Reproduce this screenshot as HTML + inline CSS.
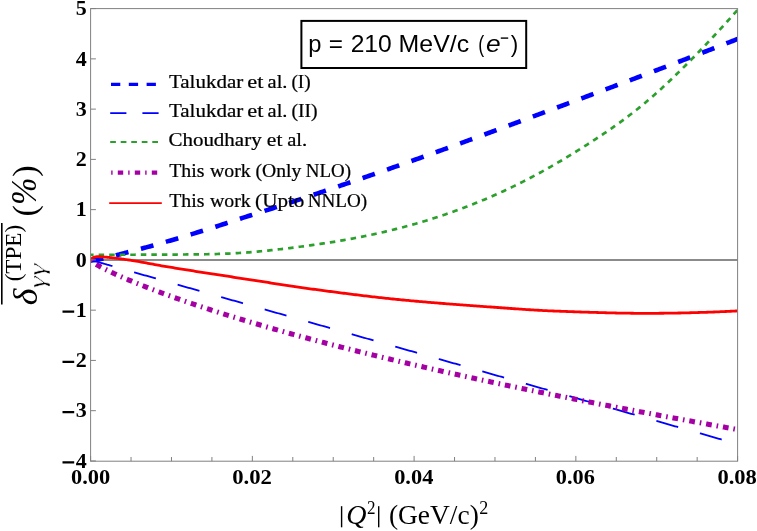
<!DOCTYPE html>
<html><head><meta charset="utf-8"><title>plot</title>
<style>
html,body{margin:0;padding:0;background:#fff;}
body{width:757px;height:531px;overflow:hidden;font-family:"Liberation Serif",serif;}
svg{display:block;will-change:transform;}
</style></head><body>
<svg width="757" height="531" viewBox="0 0 757 531">
<rect width="757" height="531" fill="#fff"/>
<defs><clipPath id="c"><rect x="90.60" y="8.60" width="647.00" height="452.60"/></clipPath></defs>
<line x1="90.60" y1="260.02" x2="737.60" y2="260.02" stroke="#646464" stroke-width="1.35"/>
<g clip-path="url(#c)" fill="none">
<path d="M90.60,260.50 L91.29,260.45 L91.97,260.39 L92.66,260.32 L93.34,260.24 L94.03,260.16 L94.71,260.07 L95.40,259.97 L96.08,259.86 L96.77,259.75 L97.45,259.63 L98.14,259.51 L98.82,259.38 L99.51,259.25 L100.20,259.11 L100.88,258.97 L101.57,258.83 L102.25,258.68 L102.94,258.53 L103.62,258.37 L104.31,258.22 L104.99,258.06 L105.68,257.90 L106.36,257.74 L107.05,257.58 L107.73,257.41 L108.42,257.25 L109.11,257.08 L109.79,256.91 L110.48,256.74 L111.16,256.57 L111.85,256.40 L112.53,256.22 L113.22,256.05 L113.90,255.87 L114.59,255.70 L115.27,255.52 L115.96,255.34 L116.64,255.16 L117.33,254.98 L118.02,254.80 L118.70,254.62 L119.39,254.44 L120.07,254.26 L120.76,254.08 L121.44,253.90 L122.13,253.72 L122.81,253.54 L123.50,253.36 L124.18,253.18 L124.87,253.00 L125.55,252.82 L126.24,252.64 L126.93,252.46 L127.61,252.28 L128.30,252.10 L128.98,251.92 L129.67,251.74 L130.35,251.56 L131.04,251.39 L132.73,250.94 L134.42,250.50 L136.11,250.05 L137.80,249.61 L139.49,249.16 L141.18,248.71 L142.86,248.26 L144.55,247.80 L146.24,247.35 L147.93,246.89 L149.62,246.42 L151.31,245.96 L153.00,245.49 L154.69,245.02 L156.38,244.55 L158.07,244.07 L159.76,243.59 L161.45,243.11 L163.14,242.62 L164.83,242.14 L166.52,241.65 L168.21,241.16 L169.90,240.67 L171.59,240.17 L173.28,239.68 L174.97,239.18 L176.66,238.68 L178.35,238.18 L180.04,237.68 L181.73,237.18 L183.41,236.67 L185.10,236.16 L186.79,235.65 L188.48,235.14 L190.17,234.63 L191.86,234.12 L193.55,233.60 L195.24,233.08 L196.93,232.56 L198.62,232.04 L200.31,231.52 L202.00,231.00 L203.69,230.47 L205.38,229.94 L207.07,229.41 L208.76,228.88 L210.45,228.35 L212.14,227.81 L213.83,227.27 L215.52,226.74 L217.21,226.19 L218.90,225.65 L220.59,225.10 L222.28,224.56 L223.96,224.01 L225.65,223.46 L227.34,222.90 L229.03,222.35 L230.72,221.79 L232.41,221.24 L234.10,220.69 L235.79,220.13 L237.48,219.58 L239.17,219.03 L240.86,218.48 L242.55,217.93 L244.24,217.38 L245.93,216.84 L247.62,216.30 L249.31,215.76 L251.00,215.21 L252.69,214.67 L254.38,214.14 L256.07,213.60 L257.76,213.06 L259.45,212.52 L261.14,211.98 L262.83,211.44 L264.52,210.90 L266.20,210.36 L267.89,209.82 L269.58,209.28 L271.27,208.73 L272.96,208.19 L274.65,207.64 L276.34,207.10 L278.03,206.55 L279.72,206.00 L281.41,205.44 L283.10,204.89 L284.79,204.34 L286.48,203.78 L288.17,203.23 L289.86,202.67 L291.55,202.11 L293.24,201.55 L294.93,200.99 L296.62,200.43 L298.31,199.87 L300.00,199.31 L301.69,198.74 L303.38,198.18 L305.07,197.61 L306.75,197.05 L308.44,196.48 L310.13,195.91 L311.82,195.35 L313.51,194.78 L315.20,194.21 L316.89,193.64 L318.58,193.07 L320.27,192.50 L321.96,191.93 L323.65,191.36 L325.34,190.79 L327.03,190.22 L328.72,189.65 L330.41,189.07 L332.10,188.50 L333.79,187.93 L335.48,187.35 L337.17,186.78 L338.86,186.20 L340.55,185.63 L342.24,185.05 L343.93,184.48 L345.62,183.90 L347.30,183.33 L348.99,182.75 L350.68,182.17 L352.37,181.59 L354.06,181.01 L355.75,180.43 L357.44,179.85 L359.13,179.27 L360.82,178.69 L362.51,178.11 L364.20,177.53 L365.89,176.94 L367.58,176.36 L369.27,175.78 L370.96,175.19 L372.65,174.61 L374.34,174.02 L376.03,173.44 L377.72,172.85 L379.41,172.26 L381.10,171.67 L382.79,171.08 L384.48,170.50 L386.17,169.90 L387.86,169.31 L389.54,168.72 L391.23,168.13 L392.92,167.54 L394.61,166.94 L396.30,166.35 L397.99,165.76 L399.68,165.16 L401.37,164.56 L403.06,163.97 L404.75,163.37 L406.44,162.77 L408.13,162.17 L409.82,161.57 L411.51,160.97 L413.20,160.37 L414.89,159.77 L416.58,159.16 L418.27,158.56 L419.96,157.96 L421.65,157.35 L423.34,156.75 L425.03,156.14 L426.72,155.54 L428.41,154.93 L430.09,154.32 L431.78,153.71 L433.47,153.11 L435.16,152.50 L436.85,151.89 L438.54,151.28 L440.23,150.67 L441.92,150.05 L443.61,149.44 L445.30,148.83 L446.99,148.22 L448.68,147.60 L450.37,146.99 L452.06,146.37 L453.75,145.76 L455.44,145.14 L457.13,144.53 L458.82,143.91 L460.51,143.29 L462.20,142.68 L463.89,142.06 L465.58,141.44 L467.27,140.82 L468.96,140.20 L470.64,139.58 L472.33,138.96 L474.02,138.34 L475.71,137.72 L477.40,137.10 L479.09,136.48 L480.78,135.86 L482.47,135.24 L484.16,134.61 L485.85,133.99 L487.54,133.37 L489.23,132.75 L490.92,132.12 L492.61,131.50 L494.30,130.87 L495.99,130.25 L497.68,129.62 L499.37,129.00 L501.06,128.37 L502.75,127.75 L504.44,127.12 L506.13,126.49 L507.82,125.87 L509.51,125.24 L511.20,124.61 L512.88,123.99 L514.57,123.36 L516.26,122.73 L517.95,122.10 L519.64,121.48 L521.33,120.85 L523.02,120.22 L524.71,119.59 L526.40,118.96 L528.09,118.33 L529.78,117.70 L531.47,117.07 L533.16,116.44 L534.85,115.82 L536.54,115.19 L538.23,114.56 L539.92,113.93 L541.61,113.30 L543.30,112.67 L544.99,112.04 L546.68,111.41 L548.37,110.78 L550.06,110.15 L551.75,109.52 L553.43,108.89 L555.12,108.25 L556.81,107.62 L558.50,106.99 L560.19,106.36 L561.88,105.73 L563.57,105.10 L565.26,104.47 L566.95,103.84 L568.64,103.21 L570.33,102.58 L572.02,101.95 L573.71,101.32 L575.40,100.69 L577.09,100.06 L578.78,99.43 L580.47,98.80 L582.16,98.17 L583.85,97.53 L585.54,96.90 L587.23,96.27 L588.92,95.64 L590.61,95.01 L592.30,94.38 L593.98,93.75 L595.67,93.12 L597.36,92.48 L599.05,91.85 L600.74,91.22 L602.43,90.59 L604.12,89.95 L605.81,89.32 L607.50,88.69 L609.19,88.06 L610.88,87.42 L612.57,86.79 L614.26,86.16 L615.95,85.52 L617.64,84.89 L619.33,84.26 L621.02,83.62 L622.71,82.99 L624.40,82.35 L626.09,81.72 L627.78,81.08 L629.47,80.45 L631.16,79.81 L632.85,79.18 L634.54,78.54 L636.22,77.90 L637.91,77.27 L639.60,76.63 L641.29,75.99 L642.98,75.35 L644.67,74.72 L646.36,74.08 L648.05,73.44 L649.74,72.80 L651.43,72.16 L653.12,71.52 L654.81,70.88 L656.50,70.24 L658.19,69.60 L659.88,68.96 L661.57,68.32 L663.26,67.68 L664.95,67.04 L666.64,66.39 L668.33,65.75 L670.02,65.11 L671.71,64.47 L673.40,63.82 L675.09,63.18 L676.77,62.53 L678.46,61.89 L680.15,61.24 L681.84,60.60 L683.53,59.95 L685.22,59.30 L686.91,58.66 L688.60,58.01 L690.29,57.36 L691.98,56.71 L693.67,56.06 L695.36,55.41 L697.05,54.76 L698.74,54.11 L700.43,53.46 L702.12,52.81 L703.81,52.16 L705.50,51.51 L707.19,50.85 L708.88,50.20 L710.57,49.55 L712.26,48.89 L713.95,48.24 L715.64,47.58 L717.32,46.93 L719.01,46.27 L720.70,45.61 L722.39,44.95 L724.08,44.30 L725.77,43.64 L727.46,42.98 L729.15,42.32 L730.84,41.66 L732.53,41.00 L734.22,40.33 L735.91,39.67 L737.60,39.01" stroke="#0000ff" stroke-width="4.60" stroke-dasharray="12.93 12.93"/>
<path d="M90.60,259.90 L91.29,260.10 L91.97,260.29 L92.66,260.49 L93.34,260.68 L94.03,260.88 L94.71,261.07 L95.40,261.27 L96.08,261.46 L96.77,261.66 L97.45,261.85 L98.14,262.05 L98.82,262.24 L99.51,262.44 L100.20,262.63 L100.88,262.83 L101.57,263.02 L102.25,263.22 L102.94,263.41 L103.62,263.61 L104.31,263.80 L104.99,264.00 L105.68,264.19 L106.36,264.39 L107.05,264.58 L107.73,264.78 L108.42,264.97 L109.11,265.17 L109.79,265.36 L110.48,265.56 L111.16,265.75 L111.85,265.95 L112.53,266.14 L113.22,266.34 L113.90,266.53 L114.59,266.73 L115.27,266.92 L115.96,267.12 L116.64,267.31 L117.33,267.51 L118.02,267.70 L118.70,267.90 L119.39,268.09 L120.07,268.29 L120.76,268.48 L121.44,268.68 L122.13,268.87 L122.81,269.07 L123.50,269.26 L124.18,269.46 L124.87,269.65 L125.55,269.85 L126.24,270.04 L126.93,270.24 L127.61,270.43 L128.30,270.63 L128.98,270.82 L129.67,271.02 L130.35,271.21 L131.04,271.41 L132.73,271.89 L134.42,272.37 L136.11,272.85 L137.80,273.33 L139.49,273.81 L141.18,274.29 L142.86,274.78 L144.55,275.26 L146.24,275.74 L147.93,276.22 L149.62,276.70 L151.31,277.18 L153.00,277.66 L154.69,278.14 L156.38,278.62 L158.07,279.10 L159.76,279.58 L161.45,280.07 L163.14,280.55 L164.83,281.03 L166.52,281.51 L168.21,281.99 L169.90,282.47 L171.59,282.95 L173.28,283.43 L174.97,283.91 L176.66,284.39 L178.35,284.87 L180.04,285.36 L181.73,285.84 L183.41,286.32 L185.10,286.80 L186.79,287.28 L188.48,287.76 L190.17,288.24 L191.86,288.72 L193.55,289.20 L195.24,289.68 L196.93,290.16 L198.62,290.65 L200.31,291.13 L202.00,291.61 L203.69,292.09 L205.38,292.57 L207.07,293.05 L208.76,293.53 L210.45,294.01 L212.14,294.49 L213.83,294.97 L215.52,295.45 L217.21,295.94 L218.90,296.42 L220.59,296.90 L222.28,297.38 L223.96,297.86 L225.65,298.34 L227.34,298.82 L229.03,299.30 L230.72,299.78 L232.41,300.26 L234.10,300.74 L235.79,301.23 L237.48,301.71 L239.17,302.19 L240.86,302.67 L242.55,303.15 L244.24,303.63 L245.93,304.11 L247.62,304.59 L249.31,305.07 L251.00,305.55 L252.69,306.03 L254.38,306.52 L256.07,307.00 L257.76,307.48 L259.45,307.96 L261.14,308.44 L262.83,308.92 L264.52,309.40 L266.20,309.88 L267.89,310.36 L269.58,310.84 L271.27,311.32 L272.96,311.81 L274.65,312.29 L276.34,312.77 L278.03,313.25 L279.72,313.73 L281.41,314.21 L283.10,314.69 L284.79,315.17 L286.48,315.65 L288.17,316.13 L289.86,316.61 L291.55,317.10 L293.24,317.58 L294.93,318.06 L296.62,318.54 L298.31,319.02 L300.00,319.50 L301.69,319.98 L303.38,320.46 L305.07,320.94 L306.75,321.42 L308.44,321.90 L310.13,322.38 L311.82,322.87 L313.51,323.35 L315.20,323.83 L316.89,324.31 L318.58,324.79 L320.27,325.27 L321.96,325.75 L323.65,326.23 L325.34,326.71 L327.03,327.19 L328.72,327.67 L330.41,328.16 L332.10,328.64 L333.79,329.12 L335.48,329.60 L337.17,330.08 L338.86,330.56 L340.55,331.04 L342.24,331.52 L343.93,332.00 L345.62,332.48 L347.30,332.96 L348.99,333.45 L350.68,333.93 L352.37,334.41 L354.06,334.89 L355.75,335.37 L357.44,335.85 L359.13,336.33 L360.82,336.81 L362.51,337.29 L364.20,337.77 L365.89,338.25 L367.58,338.74 L369.27,339.22 L370.96,339.70 L372.65,340.18 L374.34,340.66 L376.03,341.14 L377.72,341.62 L379.41,342.10 L381.10,342.58 L382.79,343.06 L384.48,343.54 L386.17,344.03 L387.86,344.51 L389.54,344.99 L391.23,345.47 L392.92,345.95 L394.61,346.43 L396.30,346.91 L397.99,347.39 L399.68,347.87 L401.37,348.35 L403.06,348.83 L404.75,349.32 L406.44,349.80 L408.13,350.28 L409.82,350.76 L411.51,351.24 L413.20,351.72 L414.89,352.20 L416.58,352.68 L418.27,353.16 L419.96,353.64 L421.65,354.12 L423.34,354.61 L425.03,355.09 L426.72,355.57 L428.41,356.05 L430.09,356.53 L431.78,357.01 L433.47,357.49 L435.16,357.97 L436.85,358.45 L438.54,358.93 L440.23,359.41 L441.92,359.90 L443.61,360.38 L445.30,360.86 L446.99,361.34 L448.68,361.82 L450.37,362.30 L452.06,362.78 L453.75,363.26 L455.44,363.74 L457.13,364.22 L458.82,364.70 L460.51,365.19 L462.20,365.67 L463.89,366.15 L465.58,366.63 L467.27,367.11 L468.96,367.59 L470.64,368.07 L472.33,368.55 L474.02,369.03 L475.71,369.51 L477.40,369.99 L479.09,370.47 L480.78,370.96 L482.47,371.44 L484.16,371.92 L485.85,372.40 L487.54,372.88 L489.23,373.36 L490.92,373.84 L492.61,374.32 L494.30,374.80 L495.99,375.28 L497.68,375.76 L499.37,376.25 L501.06,376.73 L502.75,377.21 L504.44,377.69 L506.13,378.17 L507.82,378.65 L509.51,379.13 L511.20,379.61 L512.88,380.09 L514.57,380.57 L516.26,381.05 L517.95,381.54 L519.64,382.02 L521.33,382.50 L523.02,382.98 L524.71,383.46 L526.40,383.94 L528.09,384.42 L529.78,384.90 L531.47,385.38 L533.16,385.86 L534.85,386.34 L536.54,386.83 L538.23,387.31 L539.92,387.79 L541.61,388.27 L543.30,388.75 L544.99,389.23 L546.68,389.71 L548.37,390.19 L550.06,390.67 L551.75,391.15 L553.43,391.63 L555.12,392.12 L556.81,392.60 L558.50,393.08 L560.19,393.56 L561.88,394.04 L563.57,394.52 L565.26,395.00 L566.95,395.48 L568.64,395.96 L570.33,396.44 L572.02,396.92 L573.71,397.41 L575.40,397.89 L577.09,398.37 L578.78,398.85 L580.47,399.33 L582.16,399.81 L583.85,400.29 L585.54,400.77 L587.23,401.25 L588.92,401.73 L590.61,402.21 L592.30,402.70 L593.98,403.18 L595.67,403.66 L597.36,404.14 L599.05,404.62 L600.74,405.10 L602.43,405.58 L604.12,406.06 L605.81,406.54 L607.50,407.02 L609.19,407.50 L610.88,407.99 L612.57,408.47 L614.26,408.95 L615.95,409.43 L617.64,409.91 L619.33,410.39 L621.02,410.87 L622.71,411.35 L624.40,411.83 L626.09,412.31 L627.78,412.79 L629.47,413.28 L631.16,413.76 L632.85,414.24 L634.54,414.72 L636.22,415.20 L637.91,415.68 L639.60,416.16 L641.29,416.64 L642.98,417.12 L644.67,417.60 L646.36,418.08 L648.05,418.56 L649.74,419.05 L651.43,419.53 L653.12,420.01 L654.81,420.49 L656.50,420.97 L658.19,421.45 L659.88,421.93 L661.57,422.41 L663.26,422.89 L664.95,423.37 L666.64,423.85 L668.33,424.34 L670.02,424.82 L671.71,425.30 L673.40,425.78 L675.09,426.26 L676.77,426.74 L678.46,427.22 L680.15,427.70 L681.84,428.18 L683.53,428.66 L685.22,429.14 L686.91,429.63 L688.60,430.11 L690.29,430.59 L691.98,431.07 L693.67,431.55 L695.36,432.03 L697.05,432.51 L698.74,432.99 L700.43,433.47 L702.12,433.95 L703.81,434.43 L705.50,434.92 L707.19,435.40 L708.88,435.88 L710.57,436.36 L712.26,436.84 L713.95,437.32 L715.64,437.80 L717.32,438.28 L719.01,438.76 L720.70,439.24 L722.39,439.72 L724.08,440.21 L725.77,440.69 L727.46,441.17 L729.15,441.65 L730.84,442.13 L732.53,442.61 L734.22,443.09 L735.91,443.57 L737.60,444.05" stroke="#0000ff" stroke-width="1.80" stroke-dasharray="22.65 22.6"/>
<path d="M90.60,254.77 L91.29,254.77 L91.97,254.77 L92.66,254.77 L93.34,254.77 L94.03,254.77 L94.71,254.77 L95.40,254.77 L96.08,254.77 L96.77,254.77 L97.45,254.77 L98.14,254.77 L98.82,254.77 L99.51,254.77 L100.20,254.77 L100.88,254.77 L101.57,254.77 L102.25,254.77 L102.94,254.77 L103.62,254.77 L104.31,254.77 L104.99,254.77 L105.68,254.77 L106.36,254.77 L107.05,254.77 L107.73,254.77 L108.42,254.77 L109.11,254.77 L109.79,254.77 L110.48,254.77 L111.16,254.77 L111.85,254.77 L112.53,254.77 L113.22,254.77 L113.90,254.77 L114.59,254.77 L115.27,254.77 L115.96,254.77 L116.64,254.76 L117.33,254.76 L118.02,254.76 L118.70,254.76 L119.39,254.76 L120.07,254.76 L120.76,254.76 L121.44,254.76 L122.13,254.76 L122.81,254.75 L123.50,254.75 L124.18,254.75 L124.87,254.75 L125.55,254.75 L126.24,254.75 L126.93,254.75 L127.61,254.74 L128.30,254.74 L128.98,254.74 L129.67,254.74 L130.35,254.74 L131.04,254.74 L132.73,254.73 L134.42,254.73 L136.11,254.72 L137.80,254.71 L139.49,254.71 L141.18,254.70 L142.86,254.70 L144.55,254.69 L146.24,254.68 L147.93,254.68 L149.62,254.67 L151.31,254.66 L153.00,254.65 L154.69,254.64 L156.38,254.64 L158.07,254.63 L159.76,254.62 L161.45,254.61 L163.14,254.60 L164.83,254.59 L166.52,254.59 L168.21,254.58 L169.90,254.57 L171.59,254.56 L173.28,254.55 L174.97,254.54 L176.66,254.53 L178.35,254.52 L180.04,254.51 L181.73,254.50 L183.41,254.49 L185.10,254.48 L186.79,254.47 L188.48,254.45 L190.17,254.44 L191.86,254.43 L193.55,254.41 L195.24,254.39 L196.93,254.38 L198.62,254.36 L200.31,254.34 L202.00,254.31 L203.69,254.29 L205.38,254.26 L207.07,254.23 L208.76,254.20 L210.45,254.17 L212.14,254.13 L213.83,254.09 L215.52,254.04 L217.21,254.00 L218.90,253.95 L220.59,253.89 L222.28,253.83 L223.96,253.77 L225.65,253.70 L227.34,253.63 L229.03,253.56 L230.72,253.48 L232.41,253.39 L234.10,253.30 L235.79,253.21 L237.48,253.11 L239.17,253.01 L240.86,252.90 L242.55,252.79 L244.24,252.67 L245.93,252.55 L247.62,252.42 L249.31,252.29 L251.00,252.15 L252.69,252.01 L254.38,251.87 L256.07,251.72 L257.76,251.57 L259.45,251.41 L261.14,251.25 L262.83,251.09 L264.52,250.92 L266.20,250.75 L267.89,250.57 L269.58,250.39 L271.27,250.21 L272.96,250.03 L274.65,249.84 L276.34,249.65 L278.03,249.46 L279.72,249.26 L281.41,249.06 L283.10,248.86 L284.79,248.66 L286.48,248.46 L288.17,248.25 L289.86,248.04 L291.55,247.83 L293.24,247.62 L294.93,247.40 L296.62,247.19 L298.31,246.97 L300.00,246.75 L301.69,246.52 L303.38,246.30 L305.07,246.07 L306.75,245.84 L308.44,245.60 L310.13,245.37 L311.82,245.13 L313.51,244.89 L315.20,244.65 L316.89,244.41 L318.58,244.16 L320.27,243.91 L321.96,243.66 L323.65,243.40 L325.34,243.14 L327.03,242.88 L328.72,242.62 L330.41,242.35 L332.10,242.08 L333.79,241.80 L335.48,241.53 L337.17,241.24 L338.86,240.96 L340.55,240.67 L342.24,240.38 L343.93,240.09 L345.62,239.79 L347.30,239.49 L348.99,239.18 L350.68,238.87 L352.37,238.56 L354.06,238.24 L355.75,237.92 L357.44,237.59 L359.13,237.26 L360.82,236.93 L362.51,236.59 L364.20,236.25 L365.89,235.91 L367.58,235.56 L369.27,235.20 L370.96,234.84 L372.65,234.48 L374.34,234.11 L376.03,233.74 L377.72,233.37 L379.41,232.99 L381.10,232.60 L382.79,232.21 L384.48,231.82 L386.17,231.42 L387.86,231.02 L389.54,230.61 L391.23,230.20 L392.92,229.78 L394.61,229.36 L396.30,228.93 L397.99,228.50 L399.68,228.07 L401.37,227.63 L403.06,227.18 L404.75,226.73 L406.44,226.28 L408.13,225.82 L409.82,225.35 L411.51,224.88 L413.20,224.41 L414.89,223.93 L416.58,223.44 L418.27,222.95 L419.96,222.46 L421.65,221.96 L423.34,221.45 L425.03,220.94 L426.72,220.43 L428.41,219.91 L430.09,219.38 L431.78,218.85 L433.47,218.31 L435.16,217.77 L436.85,217.22 L438.54,216.67 L440.23,216.11 L441.92,215.55 L443.61,214.98 L445.30,214.41 L446.99,213.83 L448.68,213.24 L450.37,212.65 L452.06,212.06 L453.75,211.46 L455.44,210.85 L457.13,210.23 L458.82,209.62 L460.51,208.99 L462.20,208.36 L463.89,207.73 L465.58,207.08 L467.27,206.44 L468.96,205.78 L470.64,205.12 L472.33,204.46 L474.02,203.79 L475.71,203.11 L477.40,202.43 L479.09,201.74 L480.78,201.04 L482.47,200.34 L484.16,199.64 L485.85,198.92 L487.54,198.20 L489.23,197.48 L490.92,196.75 L492.61,196.01 L494.30,195.26 L495.99,194.51 L497.68,193.76 L499.37,192.99 L501.06,192.22 L502.75,191.45 L504.44,190.67 L506.13,189.88 L507.82,189.08 L509.51,188.28 L511.20,187.48 L512.88,186.66 L514.57,185.84 L516.26,185.01 L517.95,184.18 L519.64,183.34 L521.33,182.49 L523.02,181.64 L524.71,180.78 L526.40,179.91 L528.09,179.04 L529.78,178.16 L531.47,177.27 L533.16,176.38 L534.85,175.48 L536.54,174.58 L538.23,173.66 L539.92,172.75 L541.61,171.82 L543.30,170.89 L544.99,169.95 L546.68,169.00 L548.37,168.05 L550.06,167.09 L551.75,166.13 L553.43,165.16 L555.12,164.18 L556.81,163.20 L558.50,162.21 L560.19,161.22 L561.88,160.22 L563.57,159.21 L565.26,158.20 L566.95,157.18 L568.64,156.16 L570.33,155.13 L572.02,154.09 L573.71,153.05 L575.40,152.01 L577.09,150.96 L578.78,149.90 L580.47,148.84 L582.16,147.77 L583.85,146.70 L585.54,145.62 L587.23,144.54 L588.92,143.45 L590.61,142.36 L592.30,141.26 L593.98,140.16 L595.67,139.05 L597.36,137.93 L599.05,136.81 L600.74,135.69 L602.43,134.55 L604.12,133.41 L605.81,132.27 L607.50,131.11 L609.19,129.95 L610.88,128.78 L612.57,127.60 L614.26,126.42 L615.95,125.22 L617.64,124.02 L619.33,122.80 L621.02,121.58 L622.71,120.34 L624.40,119.10 L626.09,117.84 L627.78,116.57 L629.47,115.29 L631.16,114.00 L632.85,112.69 L634.54,111.37 L636.22,110.04 L637.91,108.70 L639.60,107.34 L641.29,105.97 L642.98,104.58 L644.67,103.18 L646.36,101.76 L648.05,100.33 L649.74,98.89 L651.43,97.43 L653.12,95.96 L654.81,94.48 L656.50,92.98 L658.19,91.47 L659.88,89.95 L661.57,88.41 L663.26,86.86 L664.95,85.30 L666.64,83.72 L668.33,82.14 L670.02,80.54 L671.71,78.94 L673.40,77.32 L675.09,75.69 L676.77,74.05 L678.46,72.40 L680.15,70.75 L681.84,69.08 L683.53,67.41 L685.22,65.73 L686.91,64.04 L688.60,62.34 L690.29,60.63 L691.98,58.92 L693.67,57.20 L695.36,55.47 L697.05,53.73 L698.74,51.99 L700.43,50.24 L702.12,48.48 L703.81,46.72 L705.50,44.95 L707.19,43.17 L708.88,41.39 L710.57,39.59 L712.26,37.79 L713.95,35.99 L715.64,34.17 L717.32,32.35 L719.01,30.52 L720.70,28.68 L722.39,26.84 L724.08,24.98 L725.77,23.12 L727.46,21.25 L729.15,19.37 L730.84,17.49 L732.53,15.59 L734.22,13.69 L735.91,11.77 L737.60,9.85" stroke="#2ca02c" stroke-width="2.70" stroke-dasharray="5.5 5.04" stroke-dashoffset="2.5"/>
<path d="M90.60,259.90 L91.29,260.93 L91.97,261.53 L92.66,262.05 L93.34,262.54 L94.03,263.00 L94.71,263.45 L95.40,263.88 L96.08,264.29 L96.77,264.70 L97.45,265.10 L98.14,265.49 L98.82,265.88 L99.51,266.26 L100.20,266.63 L100.88,267.00 L101.57,267.37 L102.25,267.73 L102.94,268.09 L103.62,268.44 L104.31,268.79 L104.99,269.14 L105.68,269.48 L106.36,269.83 L107.05,270.17 L107.73,270.50 L108.42,270.84 L109.11,271.17 L109.79,271.50 L110.48,271.83 L111.16,272.15 L111.85,272.48 L112.53,272.80 L113.22,273.12 L113.90,273.44 L114.59,273.76 L115.27,274.07 L115.96,274.38 L116.64,274.70 L117.33,275.01 L118.02,275.31 L118.70,275.62 L119.39,275.93 L120.07,276.23 L120.76,276.54 L121.44,276.84 L122.13,277.14 L122.81,277.44 L123.50,277.74 L124.18,278.03 L124.87,278.33 L125.55,278.63 L126.24,278.92 L126.93,279.21 L127.61,279.50 L128.30,279.79 L128.98,280.08 L129.67,280.37 L130.35,280.66 L131.04,280.95 L132.73,281.65 L134.42,282.34 L136.11,283.04 L137.80,283.72 L139.49,284.40 L141.18,285.08 L142.86,285.75 L144.55,286.41 L146.24,287.08 L147.93,287.73 L149.62,288.39 L151.31,289.04 L153.00,289.68 L154.69,290.32 L156.38,290.96 L158.07,291.59 L159.76,292.22 L161.45,292.85 L163.14,293.47 L164.83,294.09 L166.52,294.71 L168.21,295.32 L169.90,295.93 L171.59,296.54 L173.28,297.14 L174.97,297.75 L176.66,298.34 L178.35,298.94 L180.04,299.53 L181.73,300.12 L183.41,300.71 L185.10,301.29 L186.79,301.87 L188.48,302.45 L190.17,303.03 L191.86,303.60 L193.55,304.17 L195.24,304.74 L196.93,305.31 L198.62,305.87 L200.31,306.43 L202.00,306.99 L203.69,307.55 L205.38,308.10 L207.07,308.65 L208.76,309.20 L210.45,309.75 L212.14,310.30 L213.83,310.84 L215.52,311.38 L217.21,311.92 L218.90,312.46 L220.59,312.99 L222.28,313.53 L223.96,314.06 L225.65,314.59 L227.34,315.12 L229.03,315.64 L230.72,316.16 L232.41,316.69 L234.10,317.21 L235.79,317.72 L237.48,318.24 L239.17,318.76 L240.86,319.27 L242.55,319.78 L244.24,320.29 L245.93,320.80 L247.62,321.30 L249.31,321.81 L251.00,322.31 L252.69,322.81 L254.38,323.31 L256.07,323.81 L257.76,324.31 L259.45,324.80 L261.14,325.29 L262.83,325.78 L264.52,326.27 L266.20,326.76 L267.89,327.25 L269.58,327.74 L271.27,328.22 L272.96,328.70 L274.65,329.18 L276.34,329.66 L278.03,330.14 L279.72,330.62 L281.41,331.09 L283.10,331.57 L284.79,332.04 L286.48,332.51 L288.17,332.98 L289.86,333.45 L291.55,333.92 L293.24,334.38 L294.93,334.85 L296.62,335.31 L298.31,335.78 L300.00,336.24 L301.69,336.70 L303.38,337.15 L305.07,337.61 L306.75,338.07 L308.44,338.52 L310.13,338.98 L311.82,339.43 L313.51,339.88 L315.20,340.33 L316.89,340.78 L318.58,341.22 L320.27,341.67 L321.96,342.12 L323.65,342.56 L325.34,343.00 L327.03,343.44 L328.72,343.89 L330.41,344.33 L332.10,344.76 L333.79,345.20 L335.48,345.64 L337.17,346.07 L338.86,346.51 L340.55,346.94 L342.24,347.37 L343.93,347.80 L345.62,348.23 L347.30,348.66 L348.99,349.09 L350.68,349.52 L352.37,349.94 L354.06,350.37 L355.75,350.79 L357.44,351.21 L359.13,351.63 L360.82,352.06 L362.51,352.48 L364.20,352.89 L365.89,353.31 L367.58,353.73 L369.27,354.15 L370.96,354.56 L372.65,354.97 L374.34,355.39 L376.03,355.80 L377.72,356.21 L379.41,356.62 L381.10,357.03 L382.79,357.44 L384.48,357.85 L386.17,358.25 L387.86,358.66 L389.54,359.07 L391.23,359.47 L392.92,359.87 L394.61,360.28 L396.30,360.68 L397.99,361.08 L399.68,361.48 L401.37,361.88 L403.06,362.28 L404.75,362.67 L406.44,363.07 L408.13,363.47 L409.82,363.86 L411.51,364.25 L413.20,364.65 L414.89,365.04 L416.58,365.43 L418.27,365.82 L419.96,366.21 L421.65,366.60 L423.34,366.99 L425.03,367.38 L426.72,367.77 L428.41,368.15 L430.09,368.54 L431.78,368.92 L433.47,369.31 L435.16,369.69 L436.85,370.07 L438.54,370.46 L440.23,370.84 L441.92,371.22 L443.61,371.60 L445.30,371.98 L446.99,372.35 L448.68,372.73 L450.37,373.11 L452.06,373.48 L453.75,373.86 L455.44,374.23 L457.13,374.61 L458.82,374.98 L460.51,375.36 L462.20,375.73 L463.89,376.10 L465.58,376.47 L467.27,376.84 L468.96,377.21 L470.64,377.58 L472.33,377.95 L474.02,378.31 L475.71,378.68 L477.40,379.05 L479.09,379.41 L480.78,379.78 L482.47,380.14 L484.16,380.50 L485.85,380.87 L487.54,381.23 L489.23,381.59 L490.92,381.95 L492.61,382.31 L494.30,382.67 L495.99,383.03 L497.68,383.39 L499.37,383.75 L501.06,384.11 L502.75,384.46 L504.44,384.82 L506.13,385.17 L507.82,385.53 L509.51,385.88 L511.20,386.24 L512.88,386.59 L514.57,386.94 L516.26,387.30 L517.95,387.65 L519.64,388.00 L521.33,388.35 L523.02,388.70 L524.71,389.05 L526.40,389.40 L528.09,389.75 L529.78,390.09 L531.47,390.44 L533.16,390.79 L534.85,391.13 L536.54,391.48 L538.23,391.82 L539.92,392.17 L541.61,392.51 L543.30,392.86 L544.99,393.20 L546.68,393.54 L548.37,393.88 L550.06,394.23 L551.75,394.57 L553.43,394.91 L555.12,395.25 L556.81,395.59 L558.50,395.92 L560.19,396.26 L561.88,396.60 L563.57,396.94 L565.26,397.28 L566.95,397.61 L568.64,397.95 L570.33,398.28 L572.02,398.62 L573.71,398.95 L575.40,399.29 L577.09,399.62 L578.78,399.95 L580.47,400.29 L582.16,400.62 L583.85,400.95 L585.54,401.28 L587.23,401.61 L588.92,401.94 L590.61,402.27 L592.30,402.60 L593.98,402.93 L595.67,403.26 L597.36,403.59 L599.05,403.92 L600.74,404.24 L602.43,404.57 L604.12,404.90 L605.81,405.22 L607.50,405.55 L609.19,405.87 L610.88,406.20 L612.57,406.52 L614.26,406.85 L615.95,407.17 L617.64,407.49 L619.33,407.82 L621.02,408.14 L622.71,408.46 L624.40,408.78 L626.09,409.10 L627.78,409.42 L629.47,409.74 L631.16,410.06 L632.85,410.38 L634.54,410.70 L636.22,411.02 L637.91,411.34 L639.60,411.66 L641.29,411.98 L642.98,412.29 L644.67,412.61 L646.36,412.93 L648.05,413.24 L649.74,413.56 L651.43,413.87 L653.12,414.19 L654.81,414.50 L656.50,414.82 L658.19,415.13 L659.88,415.44 L661.57,415.76 L663.26,416.07 L664.95,416.38 L666.64,416.69 L668.33,417.01 L670.02,417.32 L671.71,417.63 L673.40,417.94 L675.09,418.25 L676.77,418.56 L678.46,418.87 L680.15,419.18 L681.84,419.49 L683.53,419.80 L685.22,420.10 L686.91,420.41 L688.60,420.72 L690.29,421.03 L691.98,421.33 L693.67,421.64 L695.36,421.95 L697.05,422.25 L698.74,422.56 L700.43,422.86 L702.12,423.17 L703.81,423.47 L705.50,423.78 L707.19,424.08 L708.88,424.39 L710.57,424.69 L712.26,424.99 L713.95,425.30 L715.64,425.60 L717.32,425.90 L719.01,426.20 L720.70,426.50 L722.39,426.81 L724.08,427.11 L725.77,427.41 L727.46,427.71 L729.15,428.01 L730.84,428.31 L732.53,428.61 L734.22,428.91 L735.91,429.21 L737.60,429.50" stroke="#a400a4" stroke-width="5.10" stroke-dasharray="1.6 4.88 5.72 4.885" stroke-dashoffset="-0.7"/>
<path d="M90.60,259.90 L91.29,259.09 L91.97,258.37 L92.66,257.82 L93.34,257.53 L94.03,257.30 L94.71,257.10 L95.40,256.94 L96.08,256.81 L96.77,256.72 L97.45,256.69 L98.14,256.69 L98.82,256.70 L99.51,256.73 L100.20,256.76 L100.88,256.80 L101.57,256.85 L102.25,256.90 L102.94,256.94 L103.62,256.99 L104.31,257.04 L104.99,257.09 L105.68,257.14 L106.36,257.20 L107.05,257.25 L107.73,257.32 L108.42,257.38 L109.11,257.45 L109.79,257.51 L110.48,257.58 L111.16,257.66 L111.85,257.73 L112.53,257.81 L113.22,257.89 L113.90,257.97 L114.59,258.05 L115.27,258.13 L115.96,258.22 L116.64,258.31 L117.33,258.39 L118.02,258.48 L118.70,258.57 L119.39,258.67 L120.07,258.76 L120.76,258.85 L121.44,258.94 L122.13,259.04 L122.81,259.13 L123.50,259.23 L124.18,259.32 L124.87,259.42 L125.55,259.52 L126.24,259.61 L126.93,259.71 L127.61,259.81 L128.30,259.90 L128.98,260.00 L129.67,260.10 L130.35,260.20 L131.04,260.30 L132.73,260.56 L134.42,260.83 L136.11,261.12 L137.80,261.41 L139.49,261.70 L141.18,262.01 L142.86,262.32 L144.55,262.63 L146.24,262.95 L147.93,263.27 L149.62,263.59 L151.31,263.91 L153.00,264.23 L154.69,264.54 L156.38,264.86 L158.07,265.17 L159.76,265.47 L161.45,265.77 L163.14,266.06 L164.83,266.34 L166.52,266.62 L168.21,266.91 L169.90,267.18 L171.59,267.46 L173.28,267.74 L174.97,268.02 L176.66,268.29 L178.35,268.57 L180.04,268.84 L181.73,269.11 L183.41,269.38 L185.10,269.65 L186.79,269.92 L188.48,270.19 L190.17,270.46 L191.86,270.73 L193.55,270.99 L195.24,271.26 L196.93,271.52 L198.62,271.79 L200.31,272.05 L202.00,272.32 L203.69,272.58 L205.38,272.84 L207.07,273.10 L208.76,273.37 L210.45,273.63 L212.14,273.89 L213.83,274.15 L215.52,274.41 L217.21,274.67 L218.90,274.93 L220.59,275.19 L222.28,275.45 L223.96,275.71 L225.65,275.96 L227.34,276.22 L229.03,276.48 L230.72,276.74 L232.41,277.00 L234.10,277.26 L235.79,277.52 L237.48,277.78 L239.17,278.03 L240.86,278.29 L242.55,278.55 L244.24,278.81 L245.93,279.07 L247.62,279.34 L249.31,279.60 L251.00,279.86 L252.69,280.12 L254.38,280.38 L256.07,280.65 L257.76,280.91 L259.45,281.17 L261.14,281.43 L262.83,281.70 L264.52,281.96 L266.20,282.22 L267.89,282.48 L269.58,282.75 L271.27,283.01 L272.96,283.27 L274.65,283.53 L276.34,283.79 L278.03,284.05 L279.72,284.31 L281.41,284.56 L283.10,284.82 L284.79,285.08 L286.48,285.33 L288.17,285.59 L289.86,285.84 L291.55,286.09 L293.24,286.34 L294.93,286.59 L296.62,286.84 L298.31,287.09 L300.00,287.34 L301.69,287.58 L303.38,287.83 L305.07,288.07 L306.75,288.31 L308.44,288.55 L310.13,288.78 L311.82,289.02 L313.51,289.25 L315.20,289.48 L316.89,289.71 L318.58,289.94 L320.27,290.17 L321.96,290.39 L323.65,290.61 L325.34,290.84 L327.03,291.06 L328.72,291.28 L330.41,291.51 L332.10,291.73 L333.79,291.95 L335.48,292.17 L337.17,292.39 L338.86,292.61 L340.55,292.83 L342.24,293.04 L343.93,293.26 L345.62,293.47 L347.30,293.69 L348.99,293.90 L350.68,294.12 L352.37,294.33 L354.06,294.54 L355.75,294.75 L357.44,294.96 L359.13,295.16 L360.82,295.37 L362.51,295.57 L364.20,295.78 L365.89,295.98 L367.58,296.18 L369.27,296.38 L370.96,296.58 L372.65,296.77 L374.34,296.97 L376.03,297.16 L377.72,297.35 L379.41,297.54 L381.10,297.73 L382.79,297.91 L384.48,298.10 L386.17,298.28 L387.86,298.46 L389.54,298.64 L391.23,298.81 L392.92,298.99 L394.61,299.16 L396.30,299.33 L397.99,299.50 L399.68,299.66 L401.37,299.83 L403.06,299.99 L404.75,300.15 L406.44,300.31 L408.13,300.47 L409.82,300.63 L411.51,300.78 L413.20,300.93 L414.89,301.09 L416.58,301.24 L418.27,301.39 L419.96,301.54 L421.65,301.69 L423.34,301.83 L425.03,301.98 L426.72,302.12 L428.41,302.27 L430.09,302.41 L431.78,302.55 L433.47,302.69 L435.16,302.83 L436.85,302.97 L438.54,303.11 L440.23,303.24 L441.92,303.38 L443.61,303.51 L445.30,303.65 L446.99,303.78 L448.68,303.91 L450.37,304.04 L452.06,304.17 L453.75,304.30 L455.44,304.43 L457.13,304.56 L458.82,304.69 L460.51,304.81 L462.20,304.94 L463.89,305.07 L465.58,305.19 L467.27,305.31 L468.96,305.44 L470.64,305.56 L472.33,305.68 L474.02,305.81 L475.71,305.93 L477.40,306.05 L479.09,306.17 L480.78,306.29 L482.47,306.41 L484.16,306.53 L485.85,306.65 L487.54,306.78 L489.23,306.90 L490.92,307.02 L492.61,307.15 L494.30,307.27 L495.99,307.39 L497.68,307.52 L499.37,307.64 L501.06,307.76 L502.75,307.89 L504.44,308.01 L506.13,308.13 L507.82,308.25 L509.51,308.37 L511.20,308.49 L512.88,308.61 L514.57,308.73 L516.26,308.85 L517.95,308.97 L519.64,309.08 L521.33,309.20 L523.02,309.31 L524.71,309.42 L526.40,309.53 L528.09,309.64 L529.78,309.75 L531.47,309.85 L533.16,309.95 L534.85,310.05 L536.54,310.15 L538.23,310.25 L539.92,310.34 L541.61,310.44 L543.30,310.53 L544.99,310.61 L546.68,310.70 L548.37,310.78 L550.06,310.86 L551.75,310.93 L553.43,311.01 L555.12,311.08 L556.81,311.15 L558.50,311.21 L560.19,311.27 L561.88,311.33 L563.57,311.39 L565.26,311.45 L566.95,311.51 L568.64,311.57 L570.33,311.63 L572.02,311.69 L573.71,311.74 L575.40,311.80 L577.09,311.86 L578.78,311.92 L580.47,311.98 L582.16,312.03 L583.85,312.09 L585.54,312.15 L587.23,312.20 L588.92,312.26 L590.61,312.31 L592.30,312.36 L593.98,312.41 L595.67,312.47 L597.36,312.52 L599.05,312.57 L600.74,312.61 L602.43,312.66 L604.12,312.71 L605.81,312.75 L607.50,312.80 L609.19,312.84 L610.88,312.88 L612.57,312.92 L614.26,312.96 L615.95,312.99 L617.64,313.03 L619.33,313.06 L621.02,313.09 L622.71,313.12 L624.40,313.15 L626.09,313.18 L627.78,313.20 L629.47,313.22 L631.16,313.24 L632.85,313.26 L634.54,313.28 L636.22,313.29 L637.91,313.30 L639.60,313.31 L641.29,313.32 L642.98,313.32 L644.67,313.33 L646.36,313.33 L648.05,313.32 L649.74,313.32 L651.43,313.32 L653.12,313.31 L654.81,313.30 L656.50,313.29 L658.19,313.28 L659.88,313.27 L661.57,313.25 L663.26,313.24 L664.95,313.22 L666.64,313.20 L668.33,313.18 L670.02,313.15 L671.71,313.13 L673.40,313.10 L675.09,313.08 L676.77,313.05 L678.46,313.02 L680.15,312.98 L681.84,312.95 L683.53,312.91 L685.22,312.88 L686.91,312.84 L688.60,312.80 L690.29,312.75 L691.98,312.71 L693.67,312.66 L695.36,312.62 L697.05,312.57 L698.74,312.52 L700.43,312.47 L702.12,312.41 L703.81,312.36 L705.50,312.30 L707.19,312.24 L708.88,312.18 L710.57,312.12 L712.26,312.06 L713.95,311.99 L715.64,311.93 L717.32,311.86 L719.01,311.79 L720.70,311.72 L722.39,311.64 L724.08,311.57 L725.77,311.49 L727.46,311.41 L729.15,311.34 L730.84,311.25 L732.53,311.17 L734.22,311.09 L735.91,311.00 L737.60,310.91" stroke="#ff0000" stroke-width="2.80"/>
</g>
<rect x="90.60" y="8.60" width="647.00" height="452.60" fill="none" stroke="#808080" stroke-width="1"/>
<path d="M90.60,461.20 v-5.30 M131.04,461.20 v-4.20 M171.47,461.20 v-4.20 M211.91,461.20 v-4.20 M252.35,461.20 v-5.30 M292.79,461.20 v-4.20 M333.23,461.20 v-4.20 M373.66,461.20 v-4.20 M414.10,461.20 v-5.30 M454.54,461.20 v-4.20 M494.98,461.20 v-4.20 M535.41,461.20 v-4.20 M575.85,461.20 v-5.30 M616.29,461.20 v-4.20 M656.73,461.20 v-4.20 M697.16,461.20 v-4.20 M737.60,461.20 v-5.30 M90.60,460.94 h5.3 M90.60,410.68 h5.3 M90.60,360.42 h5.3 M90.60,310.16 h5.3 M90.60,259.90 h5.3 M90.60,209.64 h5.3 M90.60,159.38 h5.3 M90.60,109.12 h5.3 M90.60,58.86 h5.3 M90.60,8.60 h5.3" stroke="#808080" stroke-width="1" fill="none"/>
<g font-family="'Liberation Serif', serif" font-weight="bold" font-size="20px" fill="#000">
<text x="86.7" y="467.69" text-anchor="end" textLength="11.0" lengthAdjust="spacingAndGlyphs">4</text>
<text x="86.7" y="417.43" text-anchor="end" textLength="11.0" lengthAdjust="spacingAndGlyphs">3</text>
<text x="86.7" y="367.17" text-anchor="end" textLength="11.0" lengthAdjust="spacingAndGlyphs">2</text>
<text x="86.7" y="316.91" text-anchor="end" textLength="11.0" lengthAdjust="spacingAndGlyphs">1</text>
<text x="86.7" y="266.65" text-anchor="end" textLength="11.0" lengthAdjust="spacingAndGlyphs">0</text>
<text x="86.7" y="216.39" text-anchor="end" textLength="11.0" lengthAdjust="spacingAndGlyphs">1</text>
<text x="86.7" y="166.13" text-anchor="end" textLength="11.0" lengthAdjust="spacingAndGlyphs">2</text>
<text x="86.7" y="115.87" text-anchor="end" textLength="11.0" lengthAdjust="spacingAndGlyphs">3</text>
<text x="86.7" y="65.61" text-anchor="end" textLength="11.0" lengthAdjust="spacingAndGlyphs">4</text>
<text x="86.7" y="15.35" text-anchor="end" textLength="11.0" lengthAdjust="spacingAndGlyphs">5</text>
</g>
<path d="M62.5,462.34 H74.2 M62.5,412.08 H74.2 M62.5,361.82 H74.2 M62.5,311.56 H74.2" stroke="#000" stroke-width="2.2" fill="none"/>
<g fill="none">
<path d="M111.0,84.40 H161.8" stroke="#0000ff" stroke-width="3.30" stroke-dasharray="9.3 8.5"/>
<path d="M110.2,113.20 H161.8" stroke="#0000ff" stroke-width="1.70" stroke-dasharray="16.2 16.0"/>
<path d="M110.2,142.00 H158.4" stroke="#2ca02c" stroke-width="2.20" stroke-dasharray="5.7 4.82"/>
<path d="M111.2,172.70 H161.8" stroke="#a400a4" stroke-width="4.30" stroke-dasharray="1.4 5.2 5.4 5.0"/>
<path d="M109.2,203.20 H161.8" stroke="#ff0000" stroke-width="1.80"/>
</g>
<rect x="301.4" y="20.9" width="224.8" height="47.1" fill="#fff" stroke="#000" stroke-width="2"/>
<path d="M500.8,38.1 H508.2" stroke="#000" stroke-width="1.4"/>
<rect x="340.9" y="506.2" width="1.4" height="21.1" fill="#000"/>
<rect x="378.0" y="506.2" width="1.4" height="21.1" fill="#000"/>
<rect x="1.0" y="223.0" width="1.6" height="81.5" fill="#000"/>
<g fill="#000">
<text x="168.92" y="88.00" font-family="'Liberation Serif', serif" font-size="18.70px" stroke="#000" stroke-width="0.22" textLength="74.39" lengthAdjust="spacingAndGlyphs">Talukdar</text>
<text x="247.27" y="88.00" font-family="'Liberation Serif', serif" font-size="18.70px" stroke="#000" stroke-width="0.22" textLength="16.16" lengthAdjust="spacingAndGlyphs">et</text>
<text x="267.57" y="88.00" font-family="'Liberation Serif', serif" font-size="18.70px" stroke="#000" stroke-width="0.22" textLength="19.88" lengthAdjust="spacingAndGlyphs">al.</text>
<text x="291.45" y="88.00" font-family="'Liberation Serif', serif" font-size="18.70px" stroke="#000" stroke-width="0.22" textLength="19.22" lengthAdjust="spacingAndGlyphs">(I)</text>
<text x="168.92" y="117.20" font-family="'Liberation Serif', serif" font-size="18.70px" stroke="#000" stroke-width="0.22" textLength="74.39" lengthAdjust="spacingAndGlyphs">Talukdar</text>
<text x="247.27" y="117.20" font-family="'Liberation Serif', serif" font-size="18.70px" stroke="#000" stroke-width="0.22" textLength="16.16" lengthAdjust="spacingAndGlyphs">et</text>
<text x="267.57" y="117.20" font-family="'Liberation Serif', serif" font-size="18.70px" stroke="#000" stroke-width="0.22" textLength="19.88" lengthAdjust="spacingAndGlyphs">al.</text>
<text x="291.48" y="117.20" font-family="'Liberation Serif', serif" font-size="18.70px" stroke="#000" stroke-width="0.22" textLength="26.17" lengthAdjust="spacingAndGlyphs">(II)</text>
<text x="168.40" y="146.00" font-family="'Liberation Serif', serif" font-size="18.70px" stroke="#000" stroke-width="0.22" textLength="93.27" lengthAdjust="spacingAndGlyphs">Choudhary</text>
<text x="266.84" y="146.00" font-family="'Liberation Serif', serif" font-size="18.70px" stroke="#000" stroke-width="0.22" textLength="15.56" lengthAdjust="spacingAndGlyphs">et</text>
<text x="287.23" y="146.00" font-family="'Liberation Serif', serif" font-size="18.70px" stroke="#000" stroke-width="0.22" textLength="20.03" lengthAdjust="spacingAndGlyphs">al.</text>
<text x="169.16" y="176.50" font-family="'Liberation Serif', serif" font-size="18.70px" stroke="#000" stroke-width="0.22" textLength="35.20" lengthAdjust="spacingAndGlyphs">This</text>
<text x="209.96" y="176.50" font-family="'Liberation Serif', serif" font-size="18.70px" stroke="#000" stroke-width="0.22" textLength="40.76" lengthAdjust="spacingAndGlyphs">work</text>
<text x="255.57" y="176.50" font-family="'Liberation Serif', serif" font-size="18.70px" stroke="#000" stroke-width="0.22" textLength="45.76" lengthAdjust="spacingAndGlyphs">(Only</text>
<text x="305.87" y="176.50" font-family="'Liberation Serif', serif" font-size="18.70px" stroke="#000" stroke-width="0.22" textLength="45.11" lengthAdjust="spacingAndGlyphs">NLO)</text>
<text x="169.16" y="207.30" font-family="'Liberation Serif', serif" font-size="18.70px" stroke="#000" stroke-width="0.22" textLength="35.20" lengthAdjust="spacingAndGlyphs">This</text>
<text x="209.96" y="207.30" font-family="'Liberation Serif', serif" font-size="18.70px" stroke="#000" stroke-width="0.22" textLength="40.76" lengthAdjust="spacingAndGlyphs">work</text>
<text x="255.12" y="207.30" font-family="'Liberation Serif', serif" font-size="18.70px" stroke="#000" stroke-width="0.22" textLength="49.32" lengthAdjust="spacingAndGlyphs">(Upto</text>
<text x="307.73" y="207.30" font-family="'Liberation Serif', serif" font-size="18.70px" stroke="#000" stroke-width="0.22" textLength="59.38" lengthAdjust="spacingAndGlyphs">NNLO)</text>
<text x="71.05" y="484.10" font-family="'Liberation Serif', serif" font-size="20.00px" font-weight="bold" textLength="39.23" lengthAdjust="spacingAndGlyphs">0.00</text>
<text x="232.23" y="484.10" font-family="'Liberation Serif', serif" font-size="20.00px" font-weight="bold" textLength="39.70" lengthAdjust="spacingAndGlyphs">0.02</text>
<text x="394.16" y="484.10" font-family="'Liberation Serif', serif" font-size="20.00px" font-weight="bold" textLength="39.19" lengthAdjust="spacingAndGlyphs">0.04</text>
<text x="555.84" y="484.10" font-family="'Liberation Serif', serif" font-size="20.00px" font-weight="bold" textLength="39.04" lengthAdjust="spacingAndGlyphs">0.06</text>
<text x="717.42" y="484.10" font-family="'Liberation Serif', serif" font-size="20.00px" font-weight="bold" textLength="39.42" lengthAdjust="spacingAndGlyphs">0.08</text>
<text x="308.33" y="52.30" font-family="'Liberation Sans', sans-serif" font-size="24.00px" textLength="13.20" lengthAdjust="spacingAndGlyphs">p</text>
<text x="328.68" y="52.30" font-family="'Liberation Sans', sans-serif" font-size="24.00px" textLength="14.19" lengthAdjust="spacingAndGlyphs">=</text>
<text x="350.67" y="52.30" font-family="'Liberation Sans', sans-serif" font-size="24.00px" textLength="41.10" lengthAdjust="spacingAndGlyphs">210</text>
<text x="398.62" y="52.30" font-family="'Liberation Sans', sans-serif" font-size="24.00px" textLength="70.45" lengthAdjust="spacingAndGlyphs">MeV/c</text>
<text x="478.23" y="52.30" font-family="'Liberation Sans', sans-serif" font-size="24.00px" textLength="5.99" lengthAdjust="spacingAndGlyphs">(</text>
<text x="485.93" y="52.30" font-family="'Liberation Sans', sans-serif" font-size="24.00px" font-style="italic" textLength="14.67" lengthAdjust="spacingAndGlyphs">e</text>
<text x="510.77" y="52.30" font-family="'Liberation Sans', sans-serif" font-size="24.00px" textLength="7.49" lengthAdjust="spacingAndGlyphs">)</text>
<text x="346.39" y="524.00" font-family="'Liberation Serif', serif" font-size="27.20px" font-style="italic" textLength="20.22" lengthAdjust="spacingAndGlyphs">Q</text>
<text x="367.04" y="513.50" font-family="'Liberation Serif', serif" font-size="18.60px" textLength="8.52" lengthAdjust="spacingAndGlyphs">2</text>
<text x="388.92" y="524.00" font-family="'Liberation Serif', serif" font-size="27.20px" textLength="89.87" lengthAdjust="spacingAndGlyphs">(GeV/c)</text>
<text x="479.19" y="513.50" font-family="'Liberation Serif', serif" font-size="18.60px" textLength="9.02" lengthAdjust="spacingAndGlyphs">2</text>
<text transform="translate(36.60,400) rotate(-90)" x="94.86" y="0" font-family="'Liberation Serif', serif" font-size="34.50px" font-style="italic" textLength="16.66" lengthAdjust="spacingAndGlyphs">δ</text>
<text transform="translate(44.80,400) rotate(-90)" x="111.64" y="0" font-family="'Liberation Serif', serif" font-size="23.50px" font-style="italic" stroke="#fff" stroke-width="0.55" textLength="25.01" lengthAdjust="spacingAndGlyphs">γγ</text>
<text transform="translate(21.00,400) rotate(-90)" x="118.64" y="0" font-family="'Liberation Serif', serif" font-size="23.50px" textLength="56.50" lengthAdjust="spacingAndGlyphs">(TPE)</text>
<text transform="translate(35.50,400) rotate(-90)" x="183.59" y="0" font-family="'Liberation Serif', serif" font-size="33.00px" textLength="11.49" lengthAdjust="spacingAndGlyphs">(</text>
<text transform="translate(35.70,400) rotate(-90)" x="195.37" y="0" font-family="'Liberation Serif', serif" font-size="35.00px" font-style="italic" textLength="27.07" lengthAdjust="spacingAndGlyphs">%</text>
<text transform="translate(35.50,400) rotate(-90)" x="223.30" y="0" font-family="'Liberation Serif', serif" font-size="33.00px" textLength="11.50" lengthAdjust="spacingAndGlyphs">)</text>
</g>
</svg>
</body></html>
